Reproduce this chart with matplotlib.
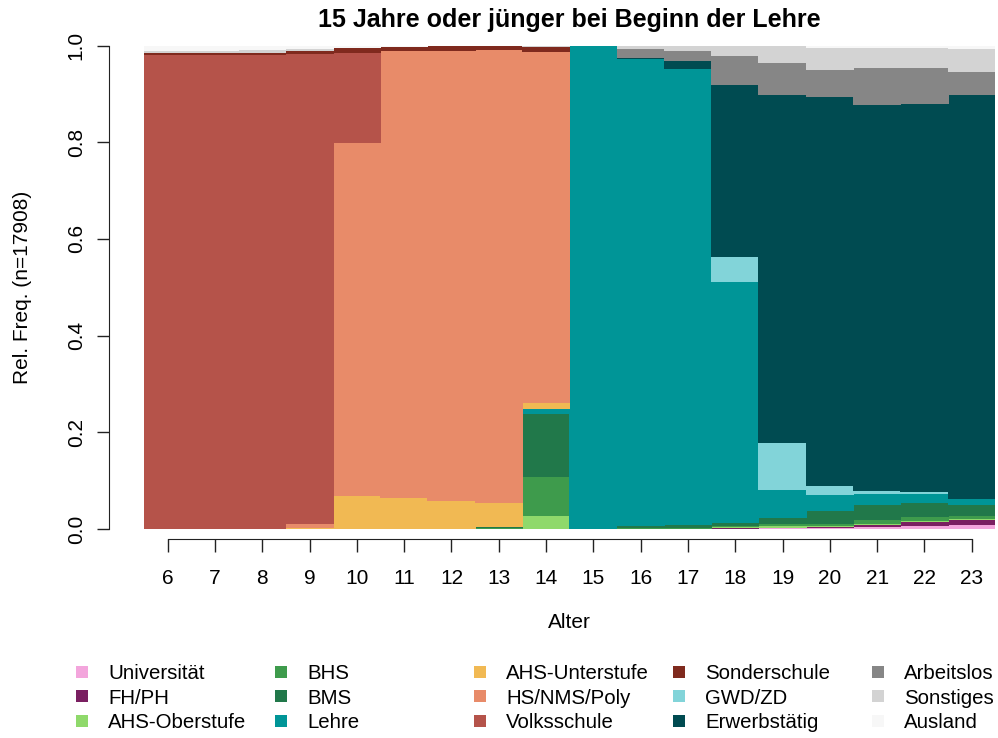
import numpy as np
import matplotlib
matplotlib.use("Agg")
import matplotlib.pyplot as plt
from matplotlib.lines import Line2D

plt.rcParams['font.family'] = ['Liberation Sans', 'DejaVu Sans']

# Alter (x) und relative Häufigkeiten je Kategorie (von unten nach oben gestapelt)
ages = [6, 7, 8, 9, 10, 11, 12, 13, 14, 15, 16, 17, 18, 19, 20, 21, 22, 23]

categories = ['Universität', 'FH/PH', 'AHS-Oberstufe', 'BHS', 'BMS', 'Lehre',
              'AHS-Unterstufe', 'HS/NMS/Poly', 'Volksschule', 'Sonderschule',
              'GWD/ZD', 'Erwerbstätig', 'Arbeitslos', 'Sonstiges', 'Ausland']

colors = ['#F3A5DC', '#7A1F61', '#8FD96B', '#3E9B4C', '#21784A', '#009597',
          '#F1B953', '#E88B69', '#B5534A', '#7F2A1E',
          '#82D4D9', '#004B51', '#868686', '#D3D3D3', '#F7F7F7']

#                  6      7      8      9      10     11     12     13     14     15     16     17     18     19     20     21     22     23
universitaet = [0.000, 0.000, 0.000, 0.000, 0.000, 0.000, 0.000, 0.000, 0.000, 0.000, 0.000, 0.000, 0.001, 0.002, 0.003, 0.005, 0.007, 0.008]
fh_ph        = [0.000, 0.000, 0.000, 0.000, 0.000, 0.000, 0.000, 0.000, 0.000, 0.000, 0.000, 0.000, 0.001, 0.001, 0.002, 0.004, 0.007, 0.011]
ahs_ober     = [0.000, 0.000, 0.000, 0.000, 0.000, 0.000, 0.000, 0.001, 0.026, 0.000, 0.001, 0.001, 0.002, 0.003, 0.001, 0.001, 0.002, 0.002]
bhs          = [0.000, 0.000, 0.000, 0.000, 0.000, 0.000, 0.000, 0.002, 0.082, 0.000, 0.001, 0.002, 0.003, 0.004, 0.005, 0.009, 0.009, 0.006]
bms          = [0.000, 0.000, 0.000, 0.000, 0.000, 0.000, 0.000, 0.002, 0.130, 0.000, 0.005, 0.006, 0.006, 0.013, 0.026, 0.030, 0.028, 0.022]
lehre        = [0.000, 0.000, 0.000, 0.000, 0.000, 0.000, 0.000, 0.000, 0.010, 1.000, 0.965, 0.943, 0.498, 0.058, 0.033, 0.023, 0.020, 0.013]
ahs_unter    = [0.000, 0.000, 0.000, 0.002, 0.069, 0.064, 0.057, 0.048, 0.013, 0.000, 0.000, 0.000, 0.000, 0.000, 0.000, 0.000, 0.000, 0.000]
hs_nms_poly  = [0.000, 0.000, 0.000, 0.008, 0.729, 0.924, 0.931, 0.937, 0.725, 0.000, 0.000, 0.000, 0.000, 0.000, 0.000, 0.000, 0.000, 0.000]
volksschule  = [0.980, 0.980, 0.980, 0.972, 0.187, 0.000, 0.000, 0.000, 0.000, 0.000, 0.000, 0.000, 0.000, 0.000, 0.000, 0.000, 0.000, 0.000]
sonderschule = [0.004, 0.004, 0.005, 0.007, 0.010, 0.009, 0.012, 0.010, 0.010, 0.000, 0.000, 0.000, 0.000, 0.000, 0.000, 0.000, 0.000, 0.000]
gwd_zd       = [0.000, 0.000, 0.000, 0.000, 0.000, 0.000, 0.000, 0.000, 0.000, 0.000, 0.000, 0.000, 0.052, 0.096, 0.019, 0.007, 0.003, 0.001]
erwerb       = [0.000, 0.000, 0.000, 0.000, 0.000, 0.000, 0.000, 0.000, 0.000, 0.000, 0.002, 0.015, 0.355, 0.720, 0.804, 0.797, 0.802, 0.834]
arbeitslos   = [0.000, 0.000, 0.000, 0.000, 0.000, 0.000, 0.000, 0.000, 0.000, 0.000, 0.019, 0.021, 0.060, 0.066, 0.057, 0.077, 0.075, 0.048]
sonstiges    = [0.005, 0.005, 0.005, 0.004, 0.000, 0.000, 0.000, 0.000, 0.004, 0.000, 0.007, 0.012, 0.022, 0.035, 0.045, 0.041, 0.041, 0.047]
ausland      = [0.011, 0.011, 0.010, 0.007, 0.005, 0.003, 0.000, 0.000, 0.000, 0.000, 0.000, 0.000, 0.000, 0.002, 0.005, 0.006, 0.006, 0.008]

series = [universitaet, fh_ph, ahs_ober, bhs, bms, lehre, ahs_unter, hs_nms_poly,
          volksschule, sonderschule, gwd_zd, erwerb, arbeitslos, sonstiges, ausland]

fig = plt.figure(figsize=(9.98, 7.38), dpi=100)
# plot region in pixels: x 144..995, y 45.5..529
ax = fig.add_axes([144 / 998, (738 - 529) / 738, 851.4 / 998, 483.5 / 738])

bottom = np.zeros(len(ages))
for vals, col in zip(series, colors):
    vals = np.array(vals)
    # slightly wider than 1 so neighbouring bars overlap and leave no hairline gap
    ax.bar(ages, vals, width=1.02, bottom=bottom, color=col, linewidth=0)
    bottom += vals

ax.set_xlim(5.5, 23.5)
ax.set_ylim(0, 1)

for s in ['top', 'right']:
    ax.spines[s].set_visible(False)
ax.spines['left'].set_position(('outward', 25))
ax.spines['bottom'].set_position(('outward', 7.5))
ax.spines['left'].set_bounds(0, 1)
ax.spines['bottom'].set_bounds(6, 23)
ax.spines['left'].set_color('#222222')
ax.spines['bottom'].set_color('#222222')

fs = 15
ax.set_xticks(ages)
ax.set_yticks([0, 0.2, 0.4, 0.6, 0.8, 1.0])
ax.set_yticklabels(['0.0', '0.2', '0.4', '0.6', '0.8', '1.0'])
ax.tick_params(axis='both', length=9, width=1, color='#222222', labelsize=fs)
ax.tick_params(axis='x', pad=12)
ax.tick_params(axis='y', pad=8)
for lab in ax.get_yticklabels():
    lab.set_rotation(90)
    lab.set_va('center')

ax.set_xlabel('Alter', fontsize=fs, va='center')
ax.xaxis.set_label_coords(0.5, (529 - 623) / 483.5)
ax.set_ylabel('Rel. Freq. (n=17908)', fontsize=fs, va='center')
ax.yaxis.set_label_coords((22 - 144) / 851.4, 0.5)

ax.set_title('15 Jahre oder jünger bei Beginn der Lehre', fontsize=18,
             fontweight='bold', y=(529 - 20) / 483.5, va='center', pad=0)

# Legende: 5 Spalten zu je 3 Einträgen
lfs = 14.7
text_x = [108, 307, 506, 705, 904]
for c in range(5):
    handles = []
    labels = []
    for r in range(3):
        i = c * 3 + r
        handles.append(Line2D([], [], linestyle='none', marker='s', markersize=9,
                              markerfacecolor=colors[i], markeredgewidth=0))
        labels.append(categories[i])
    left = text_x[c] - 1.65 * lfs * 100 / 72
    fig.legend(handles, labels, loc='center left',
               bbox_to_anchor=(left / 998, (738 - 698) / 738),
               frameon=False, fontsize=lfs, borderpad=0, borderaxespad=0,
               handlelength=0.8, handletextpad=0.85, labelspacing=0.27)

fig.savefig('out.png', dpi=100)
